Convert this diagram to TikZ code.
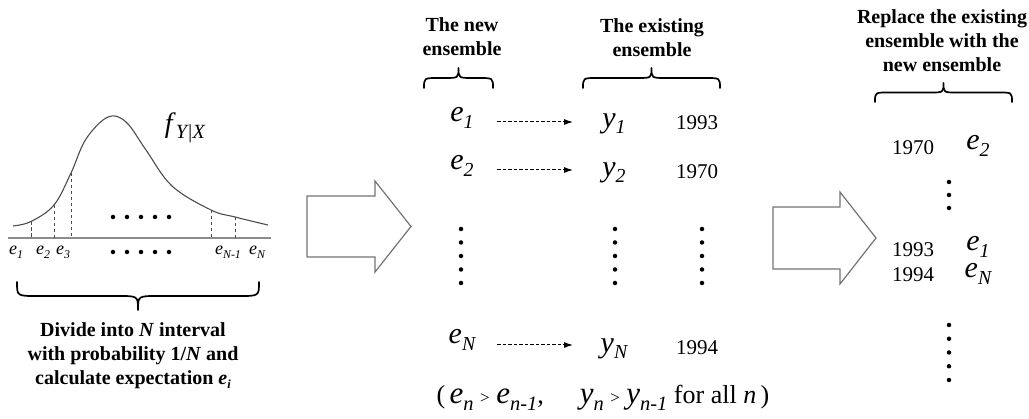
\documentclass[tikz,border=0pt]{standalone}
\usepackage{fontspec}
\setmainfont{Liberation Serif}
\usepackage{graphicx}
\usetikzlibrary{arrows.meta}
\newcommand{\tsub}[2]{\textit{#1}\raisebox{-0.45ex}{\scalebox{0.66}{\itshape #2}}}
\newcommand{\curlybrace}[4]{%
  \pgfmathsetmacro{\cbxm}{(#1+#2)/2}%
  \pgfmathsetmacro{\cbym}{#3-(#4)/2}%
  \pgfmathsetmacro{\cbyt}{#3-(#4)}%
  \pgfmathsetmacro{\cbr}{abs(#4)*0.7}%
  \draw[cbrc] (#1,#3) .. controls (#1,\cbym) and (#1,\cbym) .. (#1+\cbr,\cbym) -- (\cbxm-\cbr,\cbym)
    .. controls (\cbxm,\cbym) and (\cbxm,\cbym) .. (\cbxm,\cbyt)
    .. controls (\cbxm,\cbym) and (\cbxm,\cbym) .. (\cbxm+\cbr,\cbym) -- (#2-\cbr,\cbym)
    .. controls (#2,\cbym) and (#2,\cbym) .. (#2,#3);%
}
\begin{document}
\begin{tikzpicture}[x=1pt,y=-1pt,
  hdr/.style={font=\bfseries\fontsize{20}{24}\selectfont, align=center, inner sep=0},
  sym/.style={font=\fontsize{30}{32}\selectfont, inner sep=0},
  num/.style={font=\fontsize{21}{24}\selectfont, inner sep=0},
  lab/.style={font=\fontsize{18}{20}\selectfont, inner sep=0},
  cbrc/.style={line width=1.7pt, line cap=round, line join=round},
  blockarrow/.style={draw=black!55, line width=1.2pt, line join=miter},
  darr/.style={dash pattern=on 3.5pt off 2pt, -{Latex[length=9pt,width=6pt]}, line width=1pt},
  dot/.style={circle, fill=black, inner sep=0, minimum size=4.5pt},
  vdash/.style={draw=black!70, dash pattern=on 3.5pt off 2.5pt, line width=0.9pt},
]
\useasboundingbox (0,0) rectangle (1029,419);

% ---------- left: density curve ----------
\draw[black!45, line width=2pt] (8,238) -- (271,238);
\draw[black!70, line width=1.1pt] plot[smooth, tension=0.6] coordinates
  {(13,226) (31,221.5) (54,205) (71,173) (86,139) (108,117) (126,122) (146,150) (172,186) (211,210) (235,217) (268,225)};
\draw[vdash] (31,221.5) -- (31,238);
\draw[vdash] (54,205) -- (54,238);
\draw[vdash] (71,173) -- (71,238);
\draw[vdash] (211,210) -- (211,238);
\draw[vdash] (235,217) -- (235,238);
\foreach \i in {0,...,4} {
  \node[dot] (ua\i) at (113+14*\i,217) {};
  \node[dot] (la\i) at (113+14*\i,252) {};
}
\node[font=\fontsize{28}{30}\selectfont, inner sep=0] (fyx) at (185,128) {\textit{f}\raisebox{-0.5ex}{\scalebox{0.72}{\itshape Y|X}}};
\node[lab] (le1) at (16,252) {\tsub{e}{1}};
\node[lab] (le2) at (43,252) {\tsub{e}{2}};
\node[lab] (le3) at (63,252) {\tsub{e}{3}};
\node[lab] (leN1) at (228,252) {\tsub{e}{N-1}};
\node[lab] (leN) at (257,252) {\tsub{e}{N}};
\curlybrace{17}{259}{282}{-28}
\node[hdr] (divide) at (133,356) {Divide into \textit{N} interval\\with probability 1/\textit{N} and\\calculate expectation \textit{e}\raisebox{-0.45ex}{\scalebox{0.62}{\itshape i}}};

% ---------- block arrows ----------
\draw[blockarrow] (307,196) -- (375,196) -- (375,181) -- (411,226.5) -- (375,272) -- (375,257) -- (307,257) -- cycle;
\draw[blockarrow] (773,207) -- (840,207) -- (840,192) -- (876,238) -- (840,284) -- (840,269) -- (773,269) -- cycle;

% ---------- middle ----------
\node[hdr] (hnew) at (462,37) {The new\\ensemble};
\node[hdr] (hexist) at (652,38) {The existing\\ensemble};
\curlybrace{424}{493}{88}{20}
\curlybrace{583}{720}{88}{20}

\node[sym] (e1) at (462,118) {\tsub{e}{1}};
\node[sym] (y1) at (614,124) {\tsub{y}{1}};
\node[num] (n1) at (697,123) {1993};
\node[sym] (e2) at (462,166) {\tsub{e}{2}};
\node[sym] (y2) at (614,173) {\tsub{y}{2}};
\node[num] (n2) at (697,172) {1970};
\node[sym] (eN) at (462,340) {\tsub{e}{N}};
\node[sym] (yN) at (614,349) {\tsub{y}{N}};
\node[num] (nN) at (697,348) {1994};

\coordinate (a1s) at (497,122); \coordinate (a1e) at (573,122);
\coordinate (a2s) at (497,170); \coordinate (a2e) at (573,170);
\coordinate (aNs) at (497,345); \coordinate (aNe) at (573,345);
\draw[darr] (a1s) -- (a1e);
\draw[darr] (a2s) -- (a2e);
\draw[darr] (aNs) -- (aNe);

\foreach \i in {0,...,4} {
  \node[dot] (de\i) at (461,229+13.5*\i) {};
  \node[dot] (dy\i) at (615,229+13.5*\i) {};
  \node[dot] (dn\i) at (702,229+13.5*\i) {};
}

\node[font=\fontsize{26}{28}\selectfont, inner sep=0] (cond) at (603,398)
  {(\,{\fontsize{31}{32}\selectfont\tsub{e}{n}} {\fontsize{17}{20}\selectfont >} {\fontsize{31}{32}\selectfont\tsub{e}{n-1}},\hspace{36pt}{\fontsize{31}{32}\selectfont\tsub{y}{n}} {\fontsize{17}{20}\selectfont >} {\fontsize{31}{32}\selectfont\tsub{y}{n-1}} for all \textit{n}\,)};

% ---------- right ----------
\node[hdr] (hrep) at (942,41) {Replace the existing\\ensemble with the\\new ensemble};
\curlybrace{875}{1012}{102}{19}
\node[num] (r1970) at (913,148) {1970};
\node[sym] (re2) at (978,146) {\tsub{e}{2}};
\foreach \i in {0,...,2} { \node[dot] (ru\i) at (949,182+13*\i) {}; }
\node[num] (r1993) at (913,250) {1993};
\node[sym] (re1) at (978,247) {\tsub{e}{1}};
\node[num] (r1994) at (913,275) {1994};
\node[sym] (reN) at (978,274) {\tsub{e}{N}};
\foreach \i in {0,...,4} { \node[dot] (rl\i) at (949,325+13.75*\i) {}; }
\end{tikzpicture}
\end{document}
